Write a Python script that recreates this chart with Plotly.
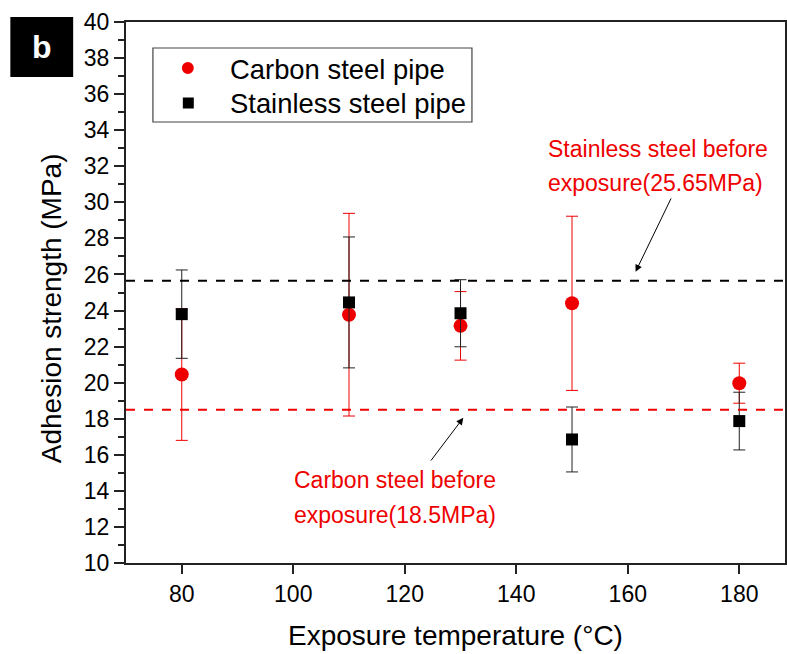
import plotly.graph_objects as go

temps = [80, 110, 130, 150, 180]
carbon_mean = [20.45, 23.77, 23.15, 24.40, 19.97]
carbon_err = [3.65, 5.62, 1.90, 4.83, 1.11]
stainless_mean = [23.80, 24.45, 23.85, 16.85, 17.87]
stainless_err = [2.45, 3.63, 1.86, 1.80, 1.60]
carbon_before = 18.5
stainless_before = 25.65
series_names = ["Carbon steel pipe", "Stainless steel pipe"]

FONT = "Liberation Sans, Arial, sans-serif"
RED = "#ee0000"

W, H = 787, 654
L, R, T, B = 126, 0, 22, 91
PW, PH = W - L - R, H - T - B


def px(xpix):
    return (xpix - L) / PW


def py(ypix):
    return 1 - (ypix - T) / PH


fig = go.Figure()
fig.add_trace(go.Scatter(
    x=temps, y=carbon_mean, mode="markers", name=series_names[0],
    marker=dict(symbol="circle", size=14, color=RED),
    error_y=dict(type="data", array=carbon_err, color=RED, thickness=1, width=6),
))
fig.add_trace(go.Scatter(
    x=temps, y=stainless_mean, mode="markers", name=series_names[1],
    marker=dict(symbol="square", size=12, color="black"),
    error_y=dict(type="data", array=stainless_err, color="#222222", thickness=1, width=6),
))

fig.add_shape(type="line", xref="paper", yref="y", x0=0, x1=1,
              y0=stainless_before, y1=stainless_before,
              line=dict(color="black", width=2, dash="dash"))
fig.add_shape(type="line", xref="paper", yref="y", x0=0, x1=1,
              y0=carbon_before, y1=carbon_before,
              line=dict(color=RED, width=2, dash="dash"))

fig.add_annotation(x=161.4, y=26.15, ax=167.9, ay=30.3, xref="x", yref="y",
                   axref="x", ayref="y", text="", showarrow=True,
                   arrowhead=2, arrowsize=1.4, arrowwidth=1, arrowcolor="black")
fig.add_annotation(x=130.5, y=18.05, ax=124.5, ay=15.6, xref="x", yref="y",
                   axref="x", ayref="y", text="", showarrow=True,
                   arrowhead=2, arrowsize=1.4, arrowwidth=1, arrowcolor="black")

note_lines = [
    ("Stainless steel before", 145.3, 32.98),
    ("exposure(25.65MPa)", 145.3, 31.09),
    ("Carbon steel before", 99.7, 14.59),
    ("exposure(18.5MPa)", 99.7, 12.65),
]
for txt, nx, ny in note_lines:
    fig.add_annotation(x=nx, y=ny, xref="x", yref="y", showarrow=False,
                       text=txt, font=dict(family=FONT, size=23, color=RED),
                       xanchor="left", yanchor="middle")

# legend box (drawn manually to match spacing)
fig.add_shape(type="rect", xref="paper", yref="paper",
              x0=px(153), x1=px(473), y0=py(122), y1=py(48),
              fillcolor="white", line=dict(color="#444444", width=1.2))
fig.add_shape(type="circle", xref="paper", yref="paper",
              x0=px(182), x1=px(194), y0=py(74), y1=py(62),
              fillcolor=RED, line=dict(width=0))
fig.add_shape(type="rect", xref="paper", yref="paper",
              x0=px(183), x1=px(194), y0=py(108.5), y1=py(97.5),
              fillcolor="black", line=dict(width=0))
for name, ypix in zip(series_names, [69, 103]):
    fig.add_annotation(xref="paper", yref="paper", x=px(228), y=py(ypix),
                       xanchor="left", yanchor="middle", showarrow=False,
                       text=name, font=dict(family=FONT, size=27.4, color="black"))

# panel label
fig.add_shape(type="rect", xref="paper", yref="paper",
              x0=px(10), x1=px(73), y0=py(77), y1=py(17),
              fillcolor="black", line=dict(width=0))
fig.add_annotation(xref="paper", yref="paper", x=px(41.5), y=py(47),
                   xanchor="center", yanchor="middle",
                   text="<b>b</b>", showarrow=False,
                   font=dict(family=FONT, size=32, color="white"))

# y-axis title
fig.add_annotation(xref="paper", yref="paper", x=px(51), y=py(308),
                   xanchor="center", yanchor="middle", textangle=-90,
                   text="Adhesion strength (MPa)", showarrow=False,
                   font=dict(family=FONT, size=28, color="black"))

fig.update_layout(
    width=W, height=H,
    margin=dict(l=L, r=R, t=T, b=B),
    paper_bgcolor="white", plot_bgcolor="white",
    font=dict(family=FONT, size=23, color="black"),
    showlegend=False,
    xaxis=dict(range=[70, 188.2], tickvals=[80, 100, 120, 140, 160, 180],
               ticks="outside", ticklen=9, tickwidth=2, tickcolor="#222222",
               showline=True, linewidth=2, linecolor="#222222", mirror=True,
               showgrid=False, zeroline=False,
               title=dict(text="Exposure temperature (°C)", font=dict(size=28), standoff=20),
               tickfont=dict(size=23)),
    yaxis=dict(range=[10, 40], dtick=2, ticks="outside", ticklen=10, tickwidth=2,
               tickcolor="#222222", showline=True, linewidth=2, linecolor="#222222",
               mirror=True, showgrid=False, zeroline=False,
               minor=dict(dtick=1, ticks="outside", ticklen=6, tickwidth=1.5, tickcolor="#222222"),
               tickfont=dict(size=23)),
)

fig.write_html("out.html")
